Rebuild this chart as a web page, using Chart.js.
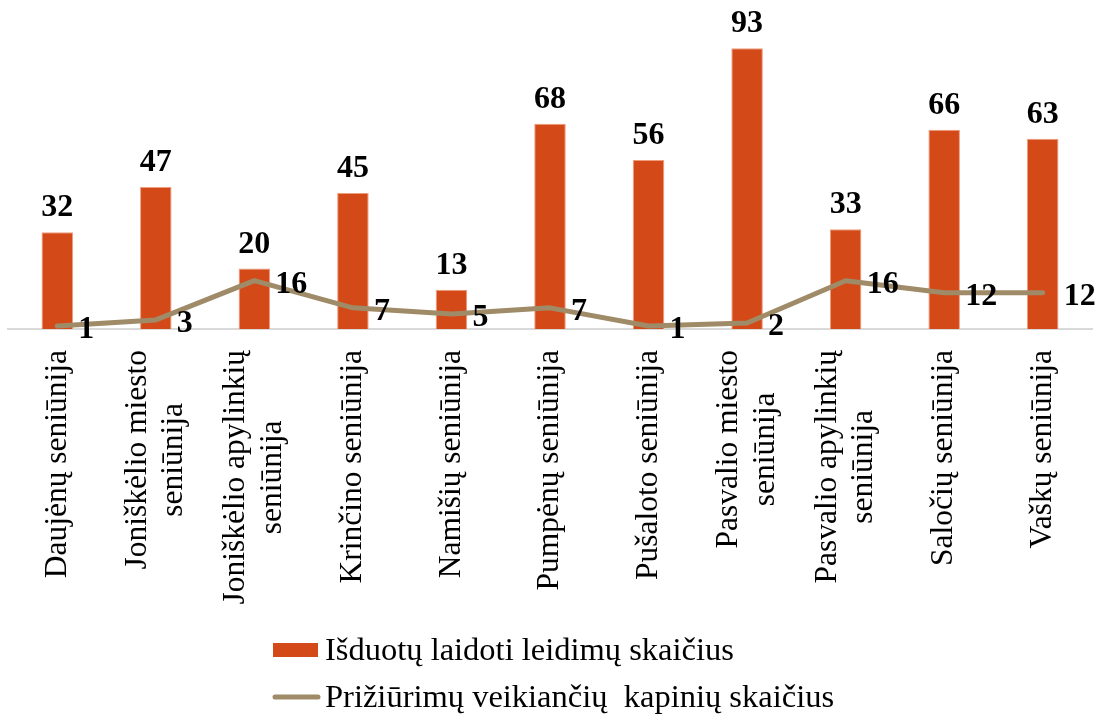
<!DOCTYPE html>
<html>
<head>
<meta charset="utf-8">
<script src="https://cdn.jsdelivr.net/npm/chart.js@4"></script>
<style>
  html, body { margin: 0; padding: 0; background: #fff; }
  #wrap { width: 1106px; height: 721px; position: relative; }
</style>
</head>
<body>
<div id="wrap"><canvas id="chart"></canvas></div>
<script>
const categories = [
    ['Daujėnų seniūnija'],
    ['Joniškėlio miesto', 'seniūnija'],
    ['Joniškėlio apylinkių', 'seniūnija'],
    ['Krinčino seniūnija'],
    ['Namišių seniūnija'],
    ['Pumpėnų seniūnija'],
    ['Pušaloto seniūnija'],
    ['Pasvalio miesto', 'seniūnija'],
    ['Pasvalio apylinkių', 'seniūnija'],
    ['Saločių seniūnija'],
    ['Vaškų seniūnija']
];
const permits = [32, 47, 20, 45, 13, 68, 56, 93, 33, 66, 63];
const cemeteries = [1, 3, 16, 7, 5, 7, 1, 2, 16, 12, 12];
const seriesNames = ['Išduotų laidoti leidimų skaičius', 'Prižiūrimų veikiančių  kapinių skaičius'];

const barColor = '#D34A18';
const lineColor = '#9F8B68';
const fontFamily = '"Liberation Serif", "Times New Roman", serif';

// value labels, rotated category labels and the stacked legend
const customDraw = {
    id: 'customDraw',
    afterDatasetsDraw(chart) {
        const ctx = chart.ctx;
        const xScale = chart.scales.x;
        ctx.save();
        ctx.fillStyle = '#000';

        ctx.font = 'bold 32px ' + fontFamily;
        ctx.textBaseline = 'alphabetic';
        ctx.textAlign = 'center';
        chart.getDatasetMeta(0).data.forEach((el, i) => {
            ctx.fillText(permits[i], el.x, el.y - 16);
        });
        ctx.textAlign = 'left';
        chart.getDatasetMeta(1).data.forEach((el, i) => {
            ctx.fillText(cemeteries[i], el.x + 21, el.y + 12);
        });

        ctx.font = '31.5px ' + fontFamily;
        ctx.textAlign = 'center';
        ctx.textBaseline = 'middle';
        const top = chart.chartArea.bottom + 21;
        categories.forEach((lines, i) => {
            const x = xScale.getPixelForTick(i);
            const w = Math.max(...lines.map(l => ctx.measureText(l).width));
            lines.forEach((line, j) => {
                ctx.save();
                ctx.translate(x + (j - (lines.length - 1) / 2) * 36.5, top + w / 2);
                ctx.rotate(-Math.PI / 2);
                ctx.fillText(line, 0, 0);
                ctx.restore();
            });
        });

        // legend
        ctx.font = '32.5px ' + fontFamily;
        const lx = 273;
        const row1 = chart.chartArea.bottom + 321;
        const row2 = row1 + 47;
        ctx.fillStyle = chart.data.datasets[0].backgroundColor;
        ctx.fillRect(lx, row1 - 7, 45, 14);
        ctx.strokeStyle = chart.data.datasets[1].borderColor;
        ctx.lineWidth = 5;
        ctx.lineCap = 'round';
        ctx.beginPath();
        ctx.moveTo(lx + 2, row2);
        ctx.lineTo(lx + 45, row2);
        ctx.stroke();
        ctx.fillStyle = '#000';
        ctx.textAlign = 'left';
        ctx.fillText(chart.data.datasets[0].label, lx + 52, row1 + 1);
        ctx.fillText(chart.data.datasets[1].label, lx + 52, row2 + 1);
        ctx.restore();
    }
};

const ctx = document.getElementById('chart').getContext('2d');
new Chart(ctx, {
    type: 'bar',
    data: {
        labels: categories,
        datasets: [{
            type: 'bar',
            label: seriesNames[0],
            data: permits,
            backgroundColor: barColor,
            borderColor: '#EE9C7C',
            borderWidth: 1,
            barPercentage: 0.32,
            categoryPercentage: 1,
            order: 2
        }, {
            type: 'line',
            label: seriesNames[1],
            data: cemeteries,
            borderColor: lineColor,
            backgroundColor: lineColor,
            borderWidth: 5,
            borderCapStyle: 'round',
            borderJoinStyle: 'round',
            pointRadius: 0,
            tension: 0,
            order: 1
        }]
    },
    options: {
        responsive: true,
        maintainAspectRatio: false,
        animation: false,
        layout: { padding: { left: 8, right: 14, top: 27, bottom: 0 } },
        plugins: {
            legend: { display: false },
            tooltip: { enabled: false }
        },
        scales: {
            x: {
                grid: { display: false },
                ticks: { display: false },
                border: { display: true, color: '#D9D9D9', width: 2 },
                afterFit: scale => { scale.height = 392; }
            },
            y: {
                display: false,
                min: 0,
                max: 100
            }
        }
    },
    plugins: [customDraw]
});
</script>
</body>
</html>
